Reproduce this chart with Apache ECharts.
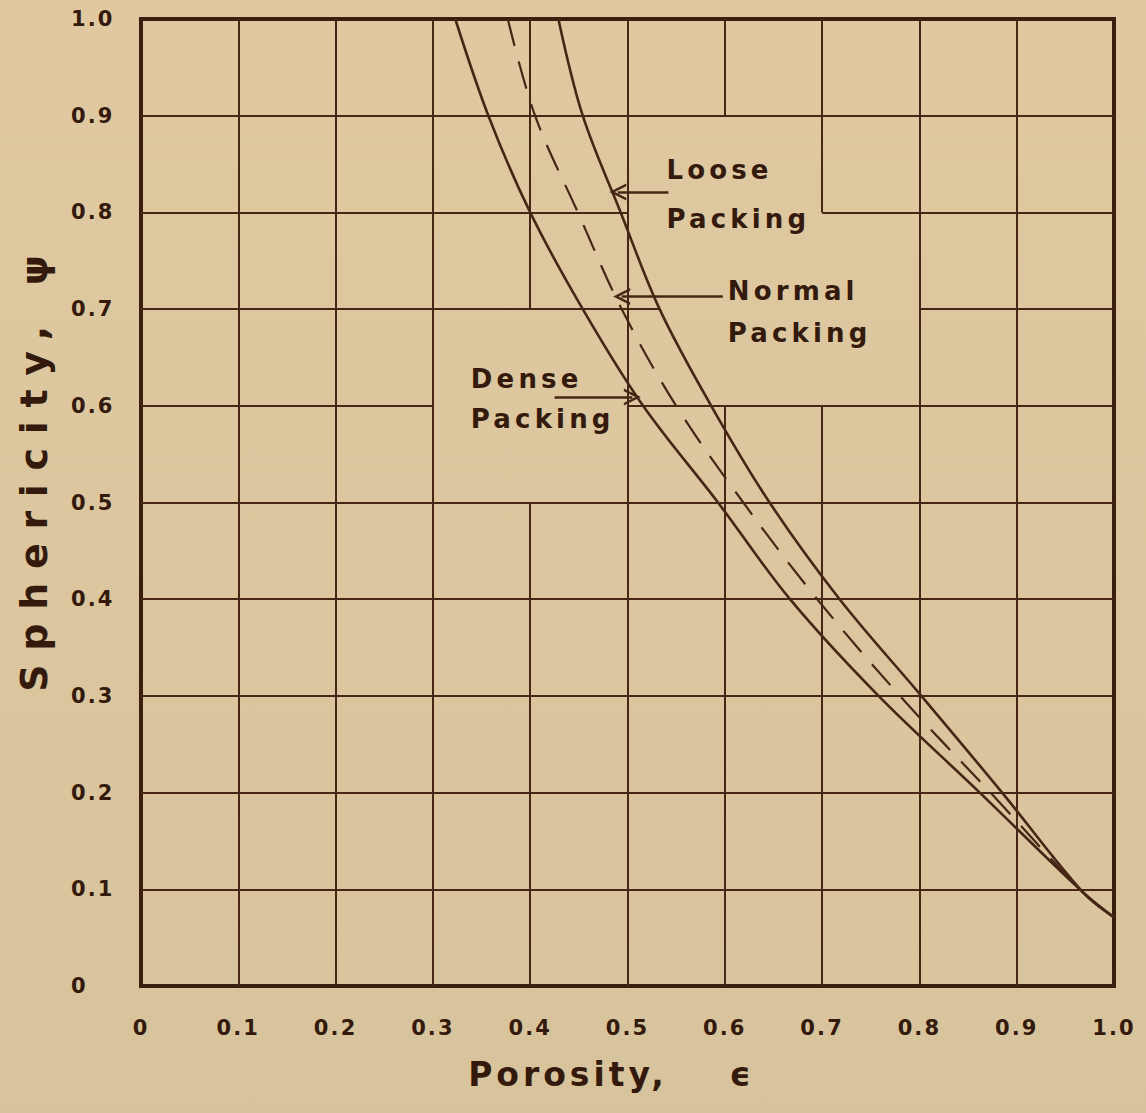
<!DOCTYPE html>
<html>
<head>
<meta charset="utf-8">
<script src="https://cdn.jsdelivr.net/npm/echarts@6/dist/echarts.min.js"></script>
<style>
  html, body { margin: 0; padding: 0; background: #dcc69e; }
  #chart { width: 1146px; height: 1113px; }
  /* hand-lettered look: widely spaced characters */
  #chart text { letter-spacing: 0.1em; }
  #chart text[style*="26px"] { letter-spacing: 0.16em; }
  #chart text[style*="33px"] { letter-spacing: 0.12em; }
  #chart text[style*="38px"] { letter-spacing: 0.36em; }
</style>
</head>
<body>
<div id="chart"></div>
<script>
// Porosity (epsilon) vs sphericity (psi) for three packing arrangements
const densePacking  = [[0.323, 1.0], [0.357, 0.9], [0.400, 0.8], [0.454, 0.7], [0.516, 0.6],
                       [0.593, 0.5], [0.667, 0.4], [0.758, 0.3], [0.862, 0.2], [0.968, 0.097], [1.0, 0.071]];
const normalPacking = [[0.377, 1.0], [0.405, 0.9], [0.449, 0.8], [0.494, 0.7], [0.550, 0.6],
                       [0.619, 0.5], [0.695, 0.4], [0.780, 0.3], [0.873, 0.2], [0.968, 0.097], [1.0, 0.071]];
const loosePacking  = [[0.429, 1.0], [0.454, 0.9], [0.493, 0.8], [0.533, 0.7], [0.586, 0.6],
                       [0.646, 0.5], [0.718, 0.4], [0.802, 0.3], [0.885, 0.2], [0.968, 0.097], [1.0, 0.071]];

const axisMin = 0, axisMax = 1, axisStep = 0.1;
const xAxisTitle = 'Porosity,    \u03F5';
const yAxisTitle = 'Sphericity, \u03C8';

// Callout labels and their leader arrows (data units)
const labelTexts = ['Loose\nPacking', 'Normal\nPacking', 'Dense\nPacking'];
const labelAnchors = [[0.540, 0.818], [0.603, 0.697], [0.339, 0.607]];
const labelLineHeights = [49, 42, 40];
const arrowSegments = [
  [[0.542, 0.821], [0.490, 0.821]],
  [[0.598, 0.713], [0.494, 0.713]],
  [[0.425, 0.609], [0.505, 0.609]]
];

// Ruled grid: lines are left out behind the callout lettering
const gridSegments = [];
[0.1, 0.2, 0.3, 0.5, 0.8, 0.9].forEach(v => gridSegments.push([[v, 0], [v, 1]]));
gridSegments.push([[0.4, 0], [0.4, 0.5]], [[0.4, 0.7], [0.4, 1]]);
gridSegments.push([[0.6, 0], [0.6, 0.6]], [[0.6, 0.9], [0.6, 1]]);
gridSegments.push([[0.7, 0], [0.7, 0.6]], [[0.7, 0.8], [0.7, 1]]);
[0.1, 0.2, 0.3, 0.4, 0.5, 0.9].forEach(v => gridSegments.push([[0, v], [1, v]]));
gridSegments.push([[0, 0.6], [0.3, 0.6]], [[0.5, 0.6], [1, 0.6]]);
gridSegments.push([[0, 0.7], [0.533, 0.7]], [[0.8, 0.7], [1, 0.7]]);
gridSegments.push([[0, 0.8], [0.5, 0.8]], [[0.7, 0.8], [1, 0.8]]);

const ink = '#472615';
const textInk = '#341a0c';
const fontFamily = '"DejaVu Sans", sans-serif';

const tickFormatter = v => (v === 0 ? '0' : v.toFixed(1));

const chart = echarts.init(document.getElementById('chart'), null, { renderer: 'svg' });

chart.setOption({
  animation: false,
  backgroundColor: new echarts.graphic.LinearGradient(0, 0, 0, 1, [
    { offset: 0, color: '#e0c9a1' },
    { offset: 1, color: '#d7c39c' }
  ]),
  grid: {
    left: 141, right: 32, top: 19, bottom: 127,
    show: true, borderColor: '#3a1f10', borderWidth: 4, backgroundColor: 'transparent'
  },
  xAxis: {
    type: 'value', min: axisMin, max: axisMax, interval: axisStep,
    name: xAxisTitle, nameLocation: 'middle', nameGap: 72,
    nameTextStyle: { fontFamily, fontSize: 33, fontWeight: 'bold', color: textInk, padding: [0, 32, 0, 0] },
    axisLine: { show: false }, axisTick: { show: false }, splitLine: { show: false },
    axisLabel: { formatter: tickFormatter, margin: 31, fontFamily, fontSize: 21, fontWeight: 'bold', color: textInk }
  },
  yAxis: {
    type: 'value', min: axisMin, max: axisMax, interval: axisStep,
    name: yAxisTitle, nameLocation: 'middle', nameGap: 88, nameRotate: 90,
    nameTextStyle: { fontFamily, fontSize: 38, fontWeight: 'bold', color: textInk, padding: [0, 0, 0, 72] },
    axisLine: { show: false }, axisTick: { show: false }, splitLine: { show: false },
    axisLabel: { formatter: tickFormatter, margin: 70, align: 'left', fontFamily, fontSize: 21, fontWeight: 'bold', color: textInk }
  },
  series: [
    {
      name: 'grid', type: 'lines', coordinateSystem: 'cartesian2d', silent: true, z: 1,
      lineStyle: { color: ink, width: 2, opacity: 1 },
      data: gridSegments.map(s => ({ coords: s }))
    },
    {
      name: 'Dense Packing', type: 'line', data: densePacking, smooth: 0.35,
      showSymbol: false, z: 3, lineStyle: { color: ink, width: 2.6 }
    },
    {
      name: 'Normal Packing', type: 'line', data: normalPacking, smooth: 0.35,
      showSymbol: false, z: 3, lineStyle: { color: ink, width: 2.2, type: [28, 16] }
    },
    {
      name: 'Loose Packing', type: 'line', data: loosePacking, smooth: 0.35,
      showSymbol: false, z: 3, lineStyle: { color: ink, width: 2.6 }
    },
    {
      name: 'arrows', type: 'lines', coordinateSystem: 'cartesian2d', silent: true, z: 4,
      symbol: ['none', 'path://M5,0 L10,14 L8.4,14 L5,4.5 L1.6,14 L0,14 Z'],
      symbolSize: [12, 17],
      lineStyle: { color: ink, width: 2.6, opacity: 1 },
      itemStyle: { color: ink },
      data: arrowSegments.map(s => ({ coords: s }))
    },
    {
      name: 'labels', type: 'scatter', symbolSize: 0, silent: true, z: 5,
      itemStyle: { opacity: 1 },
      data: labelAnchors.map((p, i) => ({
        value: p,
        label: {
          show: true, position: 'right', distance: 0, formatter: labelTexts[i],
          align: 'left', verticalAlign: 'middle', lineHeight: labelLineHeights[i],
          fontFamily, fontSize: 26, fontWeight: 'bold', color: textInk, opacity: 1
        }
      }))
    }
  ]
});
</script>
</body>
</html>
